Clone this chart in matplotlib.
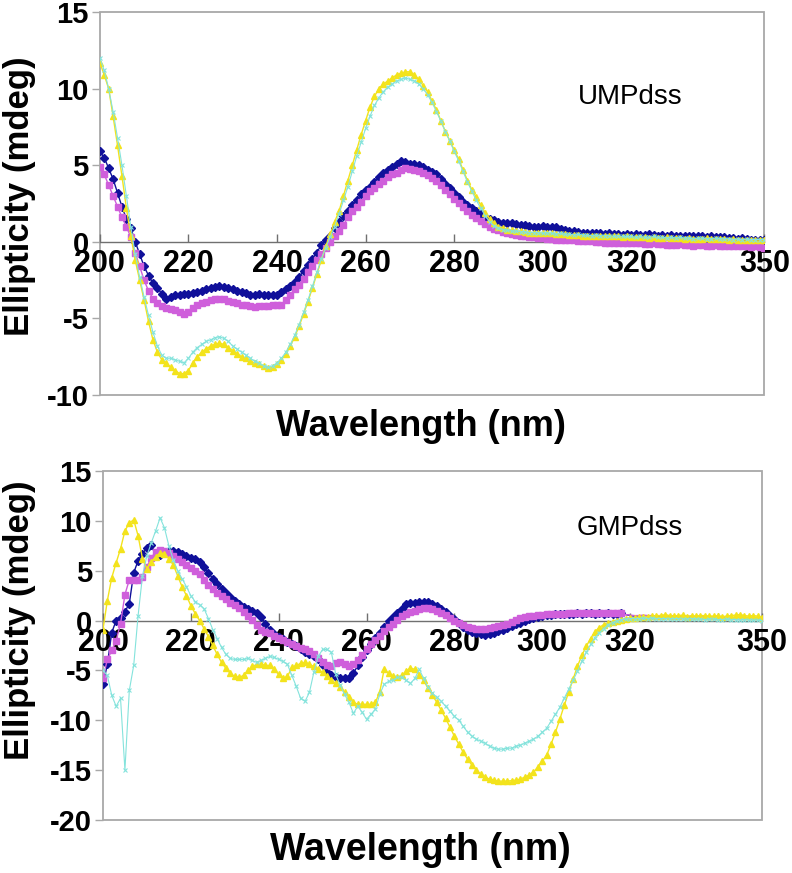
import matplotlib
matplotlib.use('Agg')
import matplotlib.pyplot as plt
import matplotlib.patches as patches
import numpy as np

plt.rcParams['font.family'] = ['Liberation Sans', 'DejaVu Sans']
plt.rcParams['axes.unicode_minus'] = False

# wavelength grid (nm), one reading per nm
wavelength = np.arange(200, 351)

# ---------------- UMPdss (top panel) ----------------
ump_blue = [
    5.9, 5.5, 4.8, 4.1, 3.2, 2.3, 1.5, 0.9, 0.0, -0.8,
    -1.6, -2.2, -2.7, -3.0, -3.4, -3.7, -3.6, -3.5, -3.45, -3.4,
    -3.4, -3.35, -3.3, -3.2, -3.1, -3.0, -2.95, -2.9, -2.95, -3.0,
    -3.05, -3.2, -3.3, -3.35, -3.45, -3.5, -3.4, -3.45, -3.5, -3.45,
    -3.45, -3.3, -3.1, -2.9, -2.6, -2.3, -1.9, -1.5, -1.1, -0.7,
    -0.2, 0.1, 0.4, 0.9, 1.3, 1.7, 2.0, 2.4, 2.7, 3.1,
    3.4, 3.6, 3.9, 4.2, 4.5, 4.7, 4.9, 5.1, 5.25, 5.2,
    5.1, 5.05, 5.0, 4.9, 4.7, 4.55, 4.4, 4.1, 3.8, 3.5,
    3.2, 2.9, 2.6, 2.4, 2.2, 2.0, 1.8, 1.6, 1.5, 1.4,
    1.3, 1.25, 1.2, 1.2, 1.15, 1.1, 1.1, 1.05, 1.0, 1.0,
    1.05, 1.0, 0.95, 0.95, 0.85, 0.75, 0.7, 0.7, 0.65, 0.6,
    0.6, 0.6, 0.55, 0.55, 0.5, 0.55, 0.5, 0.5, 0.45, 0.5,
    0.45, 0.5, 0.45, 0.45, 0.5, 0.45, 0.4, 0.45, 0.4, 0.45,
    0.4, 0.4, 0.35, 0.4, 0.4, 0.35, 0.35, 0.3, 0.35, 0.3,
    0.3, 0.3, 0.25, 0.25, 0.2, 0.25, 0.2, 0.15, 0.15, 0.15,
    0.1]
ump_magenta = [
    4.9, 4.4, 3.7, 3.0, 2.3, 1.6, 1.0, 0.3, -0.7, -1.6,
    -2.5, -3.2, -3.7, -4.0, -4.2, -4.3, -4.4, -4.45, -4.6, -4.7,
    -4.6, -4.3, -4.1, -4.0, -3.9, -3.8, -3.75, -3.7, -3.75, -3.85,
    -3.9, -4.0, -4.1, -4.15, -4.2, -4.25, -4.2, -4.2, -4.2, -4.15,
    -4.1, -4.1, -3.8, -3.5, -3.1, -2.8, -2.4, -2.0, -1.6, -1.2,
    -0.8, -0.4, 0.0, 0.4, 0.7, 1.1, 1.6, 2.0, 2.3, 2.6,
    3.0, 3.3, 3.5, 3.8, 4.0, 4.2, 4.4, 4.5, 4.7, 4.8,
    4.75, 4.7, 4.6, 4.5, 4.35, 4.15, 3.95, 3.7, 3.4, 3.1,
    2.8, 2.55, 2.3, 2.0, 1.75, 1.55, 1.35, 1.15, 1.0, 0.85,
    0.75, 0.65, 0.6, 0.5, 0.45, 0.4, 0.35, 0.3, 0.3, 0.25,
    0.25, 0.2, 0.2, 0.15, 0.15, 0.1, 0.1, 0.1, 0.05, 0.05,
    0.05, 0.05, 0.0, 0.0, -0.05, -0.05, -0.05, -0.05, -0.1, -0.1,
    -0.1, -0.1, -0.1, -0.15, -0.15, -0.1, -0.15, -0.15, -0.2, -0.2,
    -0.2, -0.15, -0.2, -0.2, -0.25, -0.2, -0.2, -0.25, -0.25, -0.2,
    -0.25, -0.3, -0.25, -0.3, -0.3, -0.3, -0.3, -0.35, -0.3, -0.35,
    -0.4]
ump_yellow = [
    11.7, 10.9, 10.0, 8.2, 6.3, 4.3, 2.2, 0.4, -1.2, -2.5,
    -3.8, -5.2, -6.4, -7.2, -7.7, -7.9, -8.2, -8.4, -8.6, -8.6,
    -8.4, -7.9, -7.5, -7.2, -7.0, -6.8, -6.7, -6.6, -6.7, -6.9,
    -7.1, -7.3, -7.5, -7.6, -7.8, -7.9, -8.0, -8.1, -8.25, -8.2,
    -8.0, -7.7, -7.3, -6.8, -6.2, -5.5, -4.7, -3.9, -3.0, -2.1,
    -1.2, -0.3, 0.5, 1.3, 2.0, 3.0, 4.0, 5.0, 6.0, 7.0,
    7.9, 8.8, 9.5, 10.0, 10.3, 10.5, 10.7, 10.9, 11.0, 11.1,
    11.1, 10.9, 10.6, 10.2, 9.8, 9.2, 8.6, 7.9, 7.2, 6.6,
    6.0, 5.4, 4.7, 4.0, 3.4, 2.9, 2.4, 1.9, 1.5, 1.2,
    1.0, 0.9, 0.8, 0.75, 0.7, 0.7, 0.65, 0.6, 0.6, 0.6,
    0.55, 0.55, 0.55, 0.5, 0.5, 0.5, 0.45, 0.45, 0.45, 0.4,
    0.4, 0.4, 0.4, 0.35, 0.35, 0.4, 0.35, 0.35, 0.3, 0.35,
    0.3, 0.3, 0.3, 0.3, 0.25, 0.3, 0.25, 0.25, 0.3, 0.25,
    0.25, 0.25, 0.2, 0.25, 0.2, 0.2, 0.2, 0.25, 0.2, 0.2,
    0.2, 0.2, 0.15, 0.2, 0.15, 0.15, 0.15, 0.1, 0.15, 0.15,
    0.15]
ump_cyan = [
    12.0, 11.2, 10.0, 8.5, 6.8, 5.0, 3.0, 1.0, -0.8, -2.3,
    -3.6, -4.8, -5.9, -6.8, -7.4, -7.6, -7.6, -7.7, -7.8, -7.9,
    -7.6, -7.2, -6.9, -6.7, -6.5, -6.4, -6.25, -6.2, -6.3, -6.5,
    -6.8, -7.0, -7.2, -7.4, -7.6, -7.8, -7.9, -8.1, -8.2, -8.1,
    -7.9, -7.6, -7.2, -6.7, -6.1, -5.4, -4.6, -3.8, -2.9, -2.0,
    -1.1, -0.4, 0.3, 1.0, 1.8, 2.7, 3.6, 4.6, 5.6, 6.5,
    7.4, 8.2, 8.9, 9.4, 9.8, 10.1, 10.3, 10.5, 10.6, 10.7,
    10.6, 10.5, 10.3, 10.0, 9.6, 9.1, 8.5, 7.9, 7.2, 6.6,
    5.9, 5.3, 4.6, 3.9, 3.3, 2.7, 2.2, 1.7, 1.3, 1.05,
    0.9, 0.8, 0.75, 0.7, 0.7, 0.65, 0.65, 0.6, 0.6, 0.6,
    0.55, 0.6, 0.55, 0.5, 0.55, 0.5, 0.5, 0.45, 0.5, 0.45,
    0.45, 0.4, 0.45, 0.4, 0.4, 0.4, 0.35, 0.4, 0.35, 0.35,
    0.35, 0.3, 0.35, 0.3, 0.3, 0.35, 0.3, 0.3, 0.25, 0.3,
    0.25, 0.3, 0.25, 0.25, 0.2, 0.25, 0.25, 0.2, 0.2, 0.25,
    0.2, 0.2, 0.2, 0.15, 0.2, 0.15, 0.2, 0.15, 0.15, 0.15,
    0.15]

# ---------------- GMPdss (bottom panel) ----------------
gmp_blue = [
    -6.4, -4.4, -1.2, 0.0, 0.3, 0.9, 1.7, 4.8, 6.0, 6.7,
    7.3, 7.6, 6.5, 6.6, 6.9, 7.0, 7.0, 6.9, 6.7, 6.5,
    6.3, 6.2, 5.9, 5.4, 4.8, 4.2, 3.7, 3.2, 2.8, 2.4,
    2.0, 1.7, 1.4, 1.2, 1.0, 0.8, 0.4, -0.3, -0.9, -1.3,
    -1.6, -1.8, -2.1, -2.3, -2.6, -2.9, -3.2, -3.4, -3.6, -3.9,
    -4.5, -5.2, -5.5, -5.7, -5.8, -5.8, -5.8, -5.3, -4.5, -3.7,
    -3.0, -2.3, -1.7, -1.2, -0.6, 0.0, 0.4, 0.8, 1.2, 1.7,
    1.8, 1.8, 1.85, 1.9, 1.9, 1.7, 1.5, 1.2, 0.9, 0.5,
    0.2, -0.2, -0.6, -0.9, -1.1, -1.25, -1.35, -1.4, -1.35, -1.2,
    -1.0, -0.9, -0.7, -0.5, -0.3, -0.2, 0.0, 0.15, 0.3, 0.4,
    0.5, 0.6, 0.6, 0.65, 0.65, 0.7, 0.7, 0.7, 0.75, 0.7,
    0.75, 0.75, 0.7, 0.75, 0.7, 0.75, 0.7, 0.7, 0.75, 0.6,
    0.5, 0.45, 0.45, 0.4, 0.45, 0.4, 0.4, 0.35, 0.4, 0.35,
    0.35, 0.3, 0.35, 0.3, 0.3, 0.35, 0.3, 0.25, 0.3, 0.3,
    0.25, 0.25, 0.2, 0.25, 0.2, 0.2, 0.2, 0.15, 0.2, 0.15,
    0.1]
gmp_magenta = [
    -5.8, -3.9, -3.0, -2.0, -0.3, 2.6, 4.1, 4.1, 4.1, 4.4,
    5.4, 6.3, 6.9, 7.1, 7.0, 6.8, 6.5, 6.2, 5.9, 5.6,
    5.3, 5.0, 4.7, 4.1, 3.6, 3.2, 2.8, 2.5, 2.2, 1.8,
    1.6, 1.3, 0.9, 0.5, 0.1, -0.4, -0.9, -1.1, -1.2, -1.5,
    -1.7, -1.9, -2.1, -2.3, -2.6, -2.8, -2.9, -3.1, -3.4, -3.8,
    -4.2, -4.5, -4.6, -4.3, -4.2, -4.4, -4.6, -4.4, -4.0, -3.5,
    -2.9, -2.4, -1.9, -1.5, -1.0, -0.6, -0.3, 0.1, 0.5, 0.7,
    0.9, 1.0, 1.2, 1.3, 1.3, 1.2, 1.0, 0.8, 0.6, 0.3,
    0.0, -0.2, -0.4, -0.6, -0.7, -0.8, -0.8, -0.8, -0.75, -0.65,
    -0.5, -0.4, -0.3, -0.1, 0.1, 0.25, 0.35, 0.45, 0.5, 0.55,
    0.6, 0.65, 0.65, 0.7, 0.7, 0.7, 0.75, 0.75, 0.75, 0.75,
    0.75, 0.75, 0.75, 0.75, 0.75, 0.75, 0.75, 0.75, 0.75, 0.6,
    0.55, 0.5, 0.5, 0.55, 0.5, 0.5, 0.45, 0.5, 0.45, 0.45,
    0.5, 0.45, 0.4, 0.45, 0.4, 0.4, 0.35, 0.4, 0.35, 0.35,
    0.3, 0.35, 0.3, 0.3, 0.25, 0.3, 0.25, 0.2, 0.25, 0.2,
    0.2]
gmp_yellow = [
    -0.9, 2.0, 4.3, 5.8, 7.2, 9.0, 9.8, 10.1, 8.5, 6.2,
    5.2, 5.9, 6.4, 6.8, 6.7, 6.2, 5.6, 4.5, 3.4, 2.5,
    1.5, 0.7, 0.0, -0.8, -1.6, -2.5, -3.4, -4.2, -4.8, -5.3,
    -5.6, -5.7, -5.5, -5.0, -4.6, -4.4, -4.4, -4.5, -4.5, -4.9,
    -5.4, -5.8, -5.6, -4.7, -4.5, -4.3, -4.2, -4.4, -4.6, -4.9,
    -5.2, -5.6, -6.0, -6.3, -6.7, -7.2, -7.7, -8.2, -8.4, -8.4,
    -8.4, -8.4, -8.2, -7.2, -4.9, -5.3, -5.6, -5.7, -5.5, -5.1,
    -4.75, -4.9, -5.5, -6.0, -6.8, -7.5, -8.2, -9.0, -9.8, -10.7,
    -11.6, -12.4, -13.2, -13.9, -14.5, -15.0, -15.4, -15.7, -15.9, -16.0,
    -16.1, -16.1, -16.1, -16.05, -16.0, -15.9, -15.7, -15.5, -15.2, -14.7,
    -14.1, -13.5, -12.4, -11.2, -9.9, -8.5, -7.2, -5.9, -4.6, -3.5,
    -2.6, -1.8, -1.1, -0.7, -0.4, -0.25, -0.1, 0.0, 0.1, 0.2,
    0.25, 0.3, 0.35, 0.4, 0.4, 0.45, 0.5, 0.5, 0.6, 0.5,
    0.45, 0.5, 0.55, 0.4, 0.5, 0.45, 0.5, 0.5, 0.45, 0.45,
    0.5, 0.4, 0.45, 0.5, 0.55, 0.6, 0.5, 0.45, 0.5, 0.45,
    0.3]
gmp_cyan = [
    -5.0, -5.5, -7.5, -8.6, -7.8, -15.0, -7.0, -4.5, 0.5, 4.5,
    6.5, 7.8, 9.0, 10.3, 9.3, 7.5, 6.1, 5.0, 4.2, 3.4,
    2.5, 1.9, 1.6, 1.2, 0.2, -0.9, -1.8, -2.7, -3.4, -3.8,
    -3.9, -3.9, -3.9, -3.8, -4.0, -4.2, -4.0, -3.8, -3.6, -3.7,
    -3.9, -4.1, -4.4, -5.5, -6.6, -7.8, -8.1, -7.2, -5.2, -3.6,
    -2.9, -2.9, -3.2, -5.4, -6.5, -7.4, -8.2, -9.3, -8.6, -9.2,
    -9.9, -9.4, -8.9, -7.4, -6.4, -6.1, -6.0, -5.7, -5.7, -6.0,
    -6.3, -5.8, -4.9, -5.8, -6.7, -7.3, -7.7, -8.1, -8.6, -9.1,
    -9.6, -10.0, -10.6, -11.2, -11.6, -11.9, -12.1, -12.3, -12.6, -12.8,
    -12.9, -12.9, -12.8, -12.8, -12.6, -12.5, -12.3, -12.1, -11.9, -11.6,
    -11.2, -10.8, -10.1, -9.4, -8.7, -7.8, -6.9, -6.0, -5.1, -4.1,
    -3.2, -2.4, -1.7, -1.2, -0.8, -0.4, -0.2, 0.0, 0.1, 0.15,
    0.2, 0.2, 0.2, 0.25, 0.2, 0.25, 0.2, 0.2, 0.2, 0.15,
    0.2, 0.2, 0.15, 0.15, 0.2, 0.15, 0.15, 0.1, 0.15, 0.15,
    0.1, 0.1, 0.15, 0.1, 0.1, 0.05, 0.1, 0.05, 0.05, 0.05,
    0.0]

panels = [
    ('UMPdss', ump_blue, ump_magenta, ump_yellow, ump_cyan, (-10, 15)),
    ('GMPdss', gmp_blue, gmp_magenta, gmp_yellow, gmp_cyan, (-20, 15)),
]
xtick_vals = [200, 220, 240, 260, 280, 300, 320, 340, 350]
xtick_text = ['200', '220', '240', '260', '280', '300', '320', '', '350']

blue = '#10109a'
magenta = '#cf5fdb'
yellow = '#f3e31c'
cyan = '#84e3dc'
frame_gray = '#a8a8a8'

fig = plt.figure(figsize=(7.92, 8.73), dpi=100)
ax_top = fig.add_axes([0.126, 0.5475, 0.839, 0.4387])
ax_bot = fig.add_axes([0.130, 0.0607, 0.832, 0.3998])

# label placement (figure coords) per panel
ylab_y = [0.775, 0.29]
xlab_y = [0.511, 0.026]
tag_xy = [(0.798, 0.778), (0.80, 0.837)]

for i, (ax, (tag, b, m, y, c, ylim)) in enumerate(zip([ax_top, ax_bot], panels)):
    # blue/magenta markers stop where the dense scan ends in the bottom panel
    mk_end = 119 if i == 1 else len(wavelength)
    ax.plot(wavelength, b, color=blue, lw=1.0, marker='D', ms=3.6,
            markevery=slice(0, mk_end), zorder=3)
    ax.plot(wavelength, m, color=magenta, lw=1.0, marker='s', ms=4.6,
            markevery=slice(0, mk_end), zorder=3)
    ax.plot(wavelength, y, color=yellow, lw=1.0, marker='^', ms=5.0, zorder=4)
    ax.plot(wavelength, c, color=cyan, lw=0.8, marker='x', ms=3.2, mew=0.8, zorder=5)

    ax.set_xlim(200, 350)
    ax.set_ylim(*ylim)
    ax.set_yticks(np.arange(ylim[0], ylim[1] + 1, 5))
    ax.set_xticks(xtick_vals)
    ax.set_xticklabels(xtick_text)

    for s in ['top', 'right', 'left']:
        ax.spines[s].set_visible(False)
    ax.spines['bottom'].set_position(('data', 0))
    ax.spines['bottom'].set_color('#707070')
    ax.spines['bottom'].set_linewidth(1.0)
    ax.add_patch(patches.Rectangle((0, 0), 1, 1, transform=ax.transAxes, fill=False,
                                   edgecolor=frame_gray, lw=1.3, clip_on=False, zorder=1))

    ax.tick_params(axis='x', direction='in', length=6, width=1, color='#707070',
                   labelsize=22, pad=5)
    ax.tick_params(axis='y', direction='out', length=6, width=1, color=frame_gray,
                   labelsize=21, pad=2)
    for lab in ax.get_xticklabels() + ax.get_yticklabels():
        lab.set_fontweight('bold')

    ax.text(tag_xy[i][0], tag_xy[i][1], tag, transform=ax.transAxes, fontsize=20,
            ha='center', va='center')

    fig.text(0.025, ylab_y[i], 'Ellipticity (mdeg)', rotation=90, fontsize=25,
             fontweight='bold', ha='center', va='center')
    fig.text(0.531, xlab_y[i], 'Wavelength (nm)', fontsize=26 if i == 0 else 27,
             fontweight='bold', ha='center', va='center')

fig.savefig('out.png', dpi=100)
